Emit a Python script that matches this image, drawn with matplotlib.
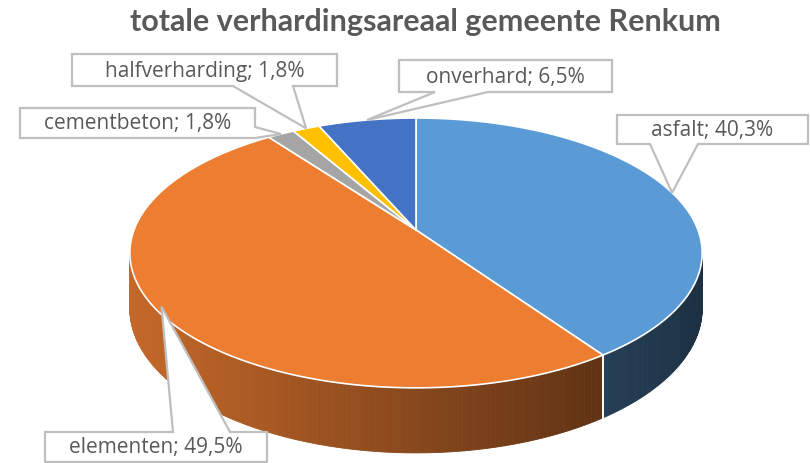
import numpy as np
import matplotlib
matplotlib.use("Agg")
import matplotlib.pyplot as plt
from matplotlib.patches import Polygon

# ---------------------------------------------------------------
# data
# ---------------------------------------------------------------
categorieen = ["asfalt", "elementen", "cementbeton", "halfverharding", "onverhard"]
percentages = [40.3, 49.5, 1.8, 1.8, 6.5]
kleuren = ["#5B9BD5", "#ED7D31", "#A5A5A5", "#FFC000", "#4472C4"]
titel = "totale verhardingsareaal gemeente Renkum"

# ---------------------------------------------------------------
# 3D pie geometry (pixels)
# ---------------------------------------------------------------
CX, CY = 416, 230       # projected centre of the top face
RX, RY = 282, 131       # radii
K = 0.17                # perspective
DIEPTE = 54             # slab thickness


def proj(theta, dz=0.0):
    # theta in degrees, clockwise from 12 o'clock
    t = np.radians(theta)
    X, Y = np.sin(t), np.cos(t)
    s = 1.0 / (1.0 + K * Y)
    return CX + RX * X * s, CY - RY * Y * s + dz * s


def schaduw(x):
    f = 0.83 - 0.43 * (x - 130) / 475
    return float(np.clip(f, 0.25, 1.0))


def donker(kleur, f):
    r, g, b = matplotlib.colors.to_rgb(kleur)
    return (r * f, g * f, b * f)


fig = plt.figure(figsize=(8.1, 4.63), dpi=100)
ax = fig.add_axes([0, 0, 1, 1])
ax.set_xlim(0, 810)
ax.set_ylim(463, 0)
ax.axis("off")

fracties = np.array(percentages) / sum(percentages)
grenzen = np.concatenate([[0], np.cumsum(fracties) * 360])

# zichtbare zijkant: voorkant tussen de twee uiterste punten
zicht_a = np.degrees(np.arccos(-K))
zicht_b = 360 - zicht_a

for i, kleur in enumerate(kleuren):
    a, b = max(grenzen[i], zicht_a), min(grenzen[i + 1], zicht_b)
    if b <= a:
        continue
    hoeken = np.linspace(a, b, max(int((b - a) * 2), 2) + 1)
    for h0, h1 in zip(hoeken[:-1], hoeken[1:]):
        x0, y0 = proj(h0)
        x1, y1 = proj(h1)
        x0b, y0b = proj(h0, DIEPTE)
        x1b, y1b = proj(h1, DIEPTE)
        c = donker(kleur, schaduw((x0 + x1) / 2))
        ax.add_patch(Polygon([(x0, y0), (x1, y1), (x1b, y1b), (x0b, y0b)],
                             closed=True, fc=c, ec=c, lw=0.6, zorder=2))
    # witte scheidingslijnen op de zijkant
    for h in (grenzen[i], grenzen[i + 1]):
        if zicht_a < h < zicht_b:
            xt, yt = proj(h)
            xb, yb = proj(h, DIEPTE)
            ax.plot([xt, xb], [yt, yb], color="white", lw=1.2, zorder=3)

# bovenvlak
for i, kleur in enumerate(kleuren):
    hoeken = np.linspace(grenzen[i], grenzen[i + 1], 200)
    pts = [(CX, CY)] + [proj(h) for h in hoeken]
    ax.add_patch(Polygon(pts, closed=True, fc=kleur, ec="white", lw=1.2,
                         joinstyle="round", zorder=4))

# ---------------------------------------------------------------
# labels met callouts
# ---------------------------------------------------------------
# box (x0, y0, x1, y1), wedge-zijde, wedge-basis
layout = [
    ((617, 115, 808, 144), "onder", (650, 698)),
    ((45, 432, 267, 462), "boven", (173, 230)),
    ((20, 108, 255, 138), "rechts", (127, 138)),
    ((72, 54, 337, 86), "onder", (233, 293)),
    ((399, 60, 612, 92), "onder", (435, 488)),
]

for i, (naam, pct) in enumerate(zip(categorieen, percentages)):
    (x0, y0, x1, y1), zijde, (b1, b2) = layout[i]
    midden = (grenzen[i] + grenzen[i + 1]) / 2
    tx, ty = proj(midden)
    if naam == "elementen":
        ty -= 8
    if zijde == "onder":
        pts = [(x0, y0), (x1, y0), (x1, y1), (b2, y1), (tx, ty), (b1, y1), (x0, y1)]
    elif zijde == "boven":
        pts = [(x0, y0), (b1, y0), (tx, ty), (b2, y0), (x1, y0), (x1, y1), (x0, y1)]
    else:
        pts = [(x0, y0), (x1, y0), (x1, b1), (tx, ty), (x1, b2), (x1, y1), (x0, y1)]
    ax.add_patch(Polygon(pts, closed=True, fc="white", ec="#BFBFBF", lw=1.6,
                         joinstyle="miter", zorder=6))
    tekst = f"{naam}; {pct:.1f}%".replace(".", ",")
    ax.text((x0 + x1) / 2, (y0 + y1) / 2 + 1, tekst, ha="center", va="center",
            fontsize=15, color="#595959", family="Open Sans", zorder=7)

ax.text(425, 22, titel, ha="center", va="center", fontsize=22,
        fontweight="bold", color="#595959", family="Lato")

fig.savefig("out.png", dpi=100)
